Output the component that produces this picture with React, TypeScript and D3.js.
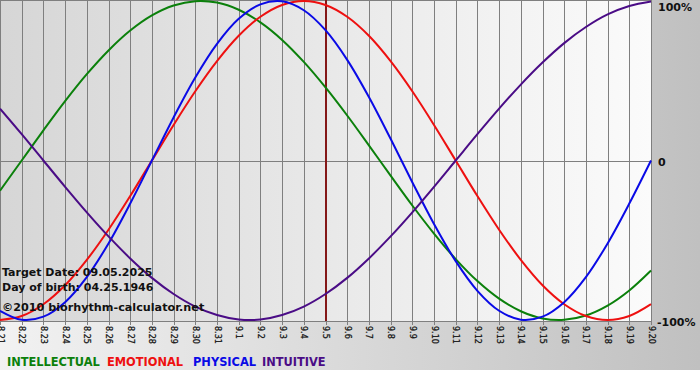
import React from "react";
import * as d3 from "d3";

const dayLabels = [
  "8.21", "8.22", "8.23", "8.24", "8.25", "8.26", "8.27", "8.28", "8.29", "8.30", "8.31",
  "9.1", "9.2", "9.3", "9.4", "9.5", "9.6", "9.7", "9.8", "9.9", "9.10",
  "9.11", "9.12", "9.13", "9.14", "9.15", "9.16", "9.17", "9.18", "9.19", "9.20",
];

const intellectual = [
  -0.189, 0, 0.189, 0.372, 0.541, 0.69, 0.815, 0.91, 0.972, 0.999, 0.99, 0.945, 0.866, 0.756, 0.618,
  0.458, 0.282, 0.095, -0.095, -0.282, -0.458, -0.618, -0.756, -0.866, -0.945, -0.99, -0.999, -0.972,
  -0.91, -0.815, -0.69,
];
const emotional = [
  -1, -0.975, -0.901, -0.782, -0.623, -0.434, -0.223, 0, 0.223, 0.434, 0.623, 0.782, 0.901, 0.975, 1,
  0.975, 0.901, 0.782, 0.623, 0.434, 0.223, 0, -0.223, -0.434, -0.623, -0.782, -0.901, -0.975, -1,
  -0.975, -0.901,
];
const physical = [
  -0.942, -0.998, -0.979, -0.888, -0.731, -0.52, -0.27, 0, 0.27, 0.52, 0.731, 0.888, 0.979, 0.998,
  0.942, 0.817, 0.631, 0.398, 0.136, -0.136, -0.398, -0.631, -0.817, -0.942, -0.998, -0.979, -0.888,
  -0.731, -0.52, -0.27, 0,
];
const intuitive = [
  0.325, 0.165, 0, -0.165, -0.325, -0.476, -0.614, -0.736, -0.837, -0.916, -0.969, -0.997, -0.997,
  -0.969, -0.916, -0.837, -0.736, -0.614, -0.476, -0.325, -0.165, 0, 0.165, 0.325, 0.476, 0.614,
  0.736, 0.837, 0.916, 0.969, 0.997,
];

const targetDay = "9.5";
const seriesNames = ["INTELLECTUAL", "EMOTIONAL", "PHYSICAL", "INTUITIVE"];
const seriesData = [intellectual, emotional, physical, intuitive];
const seriesColors = ["#0b800b", "#ee1010", "#0a0ae6", "#4a0c86"];
const legendX = [7, 107, 193, 262];
const yTickLabels = [
  { v: 1, t: "100%" },
  { v: 0, t: "0" },
  { v: -1, t: "-100%" },
];
const infoLines = ["Target Date: 09.05.2025", "Day of birth: 04.25.1946", "©2010 biorhythm-calculator.net"];

const W = 700;
const H = 380;
const plotW = 651;
const plotH = 321;

export default function App() {
  React.useEffect(() => {
    document.body.style.margin = "0";
  }, []);

  const x = d3.scalePoint<string>().domain(dayLabels).range([0, plotW]).padding(0);
  const y = d3.scaleLinear().domain([-1, 1]).range([320, 1]);
  const line = d3
    .line<number>()
    .x((_, i) => x(dayLabels[i]) as number)
    .y((v) => y(v))
    .curve(d3.curveCatmullRom.alpha(0.5));

  const font = "'DejaVu Sans', Verdana, sans-serif";
  const gx = (d: string) => Math.round(x(d) as number) + 0.5;

  return (
    <svg
      width={W}
      height={H}
      style={{ position: "absolute", left: 0, top: 0, display: "block" }}
      fontFamily={font}
    >
      <defs>
        <linearGradient id="outerBg" x1="0" x2="1" y1="0" y2="0">
          <stop offset="0" stopColor="#f2f2f2" />
          <stop offset="1" stopColor="#c0c0c0" />
        </linearGradient>
        <linearGradient id="plotBg" x1="0" x2="1" y1="0" y2="0">
          <stop offset="0" stopColor="#d6d6d6" />
          <stop offset="1" stopColor="#fbfbfb" />
        </linearGradient>
        <clipPath id="plotClip">
          <rect x={0} y={0} width={plotW + 1} height={plotH + 1} />
        </clipPath>
      </defs>
      <rect x={0} y={0} width={W} height={H} fill="#ffffff" />
      <rect x={0} y={0} width={W} height={370} fill="url(#outerBg)" />
      <rect x={0} y={0} width={plotW} height={plotH} fill="url(#plotBg)" />

      {dayLabels.map((d) => (
        <line key={"g" + d} x1={gx(d)} x2={gx(d)} y1={0} y2={plotH + 4} stroke="#7f7f7f" strokeWidth={1} />
      ))}
      <line x1={0} x2={plotW} y1={0.5} y2={0.5} stroke="#7f7f7f" />
      <line x1={0} x2={plotW} y1={Math.round(y(0)) + 0.5} y2={Math.round(y(0)) + 0.5} stroke="#7f7f7f" />
      <line x1={0} x2={plotW} y1={plotH + 0.5} y2={plotH + 0.5} stroke="#7f7f7f" />

      <line
        x1={(x(targetDay) as number) + 0.5}
        x2={(x(targetDay) as number) + 0.5}
        y1={0}
        y2={plotH}
        stroke="#841818"
        strokeWidth={2}
      />

      <g clipPath="url(#plotClip)">
        {seriesData.map((s, i) => (
          <path key={seriesNames[i]} d={line(s) || ""} fill="none" stroke={seriesColors[i]} strokeWidth={2} />
        ))}
      </g>

      {dayLabels.map((d) => (
        <text
          key={"t" + d}
          transform={`translate(${x(d)},${plotH + 5}) rotate(90)`}
          fontSize={8}
          dominantBaseline="central"
          textAnchor="start"
          fill="#111"
          stroke="#111"
          strokeWidth={0.25}
        >
          {d}
        </text>
      ))}

      {yTickLabels.map((t, i) => (
        <text
          key={t.t}
          x={t.v < 0 ? 657 : 658}
          y={i === 0 ? 11 : i === 1 ? 166 : 326}
          fontSize={11}
          fontWeight="bold"
          fill="#111"
        >
          {t.t}
        </text>
      ))}

      {infoLines.map((t, i) => (
        <text
          key={t}
          x={2}
          y={[276, 291, 311][i]}
          fontSize={i === 2 ? 11.2 : 11}
          fontWeight="bold"
          fill="#111"
        >
          {t}
        </text>
      ))}

      {seriesNames.map((n, i) => (
        <text key={"l" + n} x={legendX[i]} y={366} fontSize={11.4} fontWeight="bold" fill={seriesColors[i]}>
          {n}
        </text>
      ))}
    </svg>
  );
}
